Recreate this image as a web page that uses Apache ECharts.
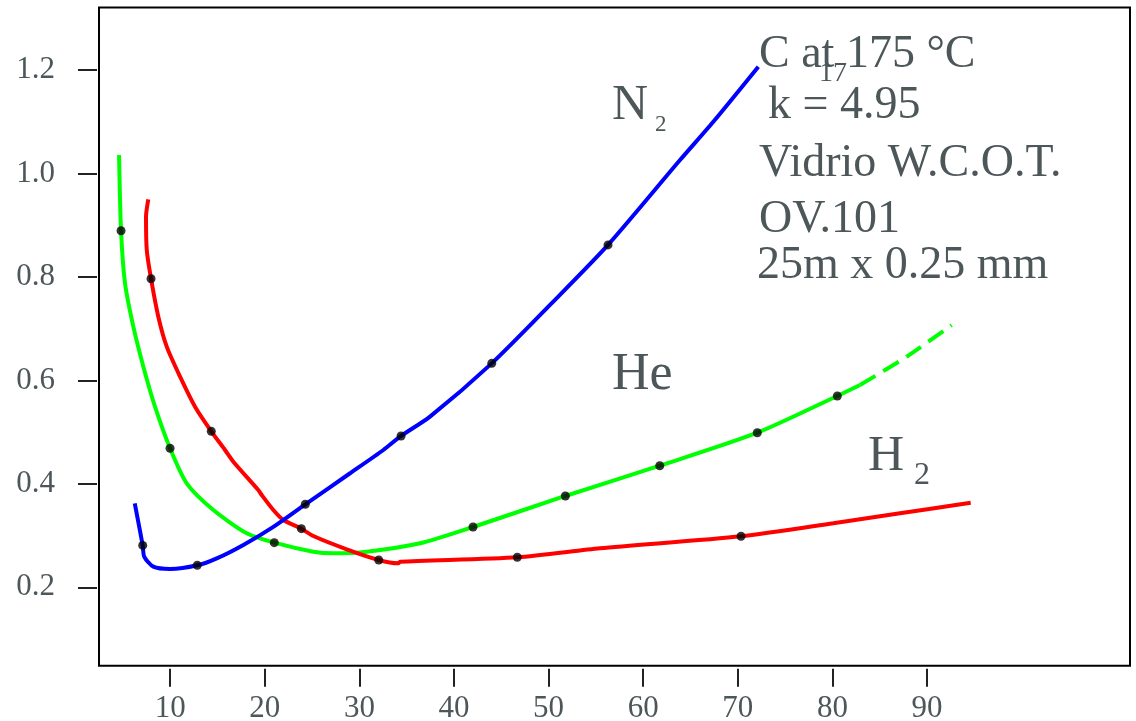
<!DOCTYPE html>
<html>
<head>
<meta charset="utf-8">
<script src="https://cdn.jsdelivr.net/npm/echarts@6/dist/echarts.min.js"></script>
<style>html,body{margin:0;padding:0;background:#fff;}#c{width:1136px;height:721px;}</style>
</head>
<body>
<div id="c"></div>
<script>
// ---- data (x = linear velocity, y = HETP) ----
const xTicks = [10, 20, 30, 40, 50, 60, 70, 80, 90];
const yTicks = [0.2, 0.4, 0.6, 0.8, 1.0, 1.2];

const n2Line = [[6.25,0.3625],[7.09,0.281],[7.26,0.259],[8.21,0.240],[9.98,0.2355],[12.86,0.2426],[14.92,0.256],[17.73,0.282],[20.90,0.317],[24.28,0.3605],[29.01,0.4205],[32.53,0.4655],[34.40,0.4926],[37.46,0.530],[43.99,0.633],[50.15,0.746],[56.28,0.862],[63.89,1.026],[67.41,1.100],[72.17,1.2065]];
const n2Points = [[7.09,0.281],[12.86,0.2426],[24.28,0.3605],[34.40,0.4926],[43.99,0.633],[56.28,0.862]];

const heLine = [[4.59,1.0358],[4.80,0.8894],[5.22,0.7877],[6.10,0.7039],[7.16,0.6265],[8.39,0.5492],[9.98,0.4688],[11.74,0.4011],[14.56,0.3495],[18.09,0.3045],[21.00,0.2863],[25.13,0.2689],[27.24,0.2658],[30.77,0.2689],[36.41,0.2851],[42.01,0.3166],[51.77,0.3766],[61.75,0.4351],[72.06,0.4989],[80.52,0.5699],[82.92,0.5911]];
const heDashed = [[82.92,0.5911],[87.9,0.6465],[92.61,0.7071]];
const hePoints = [[4.80,0.8894],[9.98,0.4688],[21.00,0.2863],[42.01,0.3166],[51.77,0.3766],[61.75,0.4351],[72.06,0.4989],[80.52,0.5699]];

const h2Line = [[7.68,0.9501],[7.44,0.9165],[7.52,0.8521],[7.97,0.7966],[8.74,0.7232],[9.63,0.6652],[11.04,0.6072],[12.62,0.5492],[14.34,0.5016],[15.79,0.4655],[16.67,0.4429],[19.31,0.3882],[19.67,0.3785],[20.90,0.3495],[21.96,0.3302],[23.86,0.3134],[25.13,0.2992],[28.66,0.2735],[32.04,0.2529],[34.11,0.2465],[34.29,0.2496],[46.69,0.2581],[55.43,0.2755],[70.34,0.2987],[80.10,0.3238],[87.15,0.3431],[94.62,0.3636]];
const h2Points = [[7.97,0.7966],[14.34,0.5016],[23.86,0.3134],[32.04,0.2529],[46.69,0.2581],[70.34,0.2987]];

// ---- styling ----
const TXT = '#4d575a';
const SERIF = 'Liberation Serif';

function lineSeries(data, color, dashed) {
  return {
    type: 'line', data: data, showSymbol: false, smooth: 0.25,
    lineStyle: { color: color, width: 4, type: dashed ? [18, 9] : 'solid', cap: 'butt' },
    silent: true, animation: false, z: 2
  };
}
function dotSeries(data) {
  return {
    type: 'scatter', data: data, symbol: 'circle', symbolSize: 9,
    itemStyle: { color: '#000' }, silent: true, animation: false, z: 5
  };
}
// text placed by baseline
function txt(str, x, baseline, fs) {
  return {
    type: 'text', x: x, y: baseline - 0.3375 * fs, z: 10,
    style: { text: str, fill: TXT, font: fs + 'px "' + SERIF + '"', verticalAlign: 'middle', align: 'left' }
  };
}

const chart = echarts.init(document.getElementById('c'), null, { renderer: 'canvas' });
chart.setOption({
  animation: false,
  backgroundColor: '#fff',
  grid: { left: 99, top: 7.5, right: 6, bottom: 55.3, containLabel: false, outerBoundsMode: 'none', show: true, borderColor: '#000', borderWidth: 2, backgroundColor: 'transparent' },
  xAxis: {
    type: 'value', min: 2.47, max: 111.46, offset: 3,
    axisLine: { show: false },
    axisTick: { show: true, length: 18, customValues: xTicks, lineStyle: { color: '#222', width: 2 } },
    axisLabel: { customValues: xTicks, margin: 25, fontFamily: SERIF, fontSize: 31, color: TXT },
    splitLine: { show: false }
  },
  yAxis: {
    type: 'value', min: 0.0485, max: 1.3209, offset: 2,
    axisLine: { show: false },
    axisTick: { show: true, length: 19, customValues: yTicks, lineStyle: { color: '#222', width: 2 } },
    axisLabel: { customValues: yTicks, margin: 42, fontFamily: SERIF, fontSize: 31, color: TXT, formatter: v => v.toFixed(1) },
    splitLine: { show: false }
  },
  series: [
    lineSeries(heLine, '#00ff00', false),
    lineSeries(heDashed, '#00ff00', true),
    lineSeries(h2Line, '#ff0000', false),
    lineSeries(n2Line, '#0000ff', false),
    dotSeries(n2Points),
    dotSeries(hePoints),
    dotSeries(h2Points)
  ],
  graphic: [
    txt('C at 175 °C', 759, 70, 46),
    txt('17', 819, 83, 28),
    txt('k = 4.95', 768, 121.7, 46),
    txt('Vidrio W.C.O.T.', 759, 179.3, 46),
    txt('OV.101', 759, 235, 46),
    txt('25m x 0.25 mm', 757, 281.7, 46),
    txt('N', 612, 123, 50),
    txt('2', 655, 133, 23),
    txt('He', 612, 393, 52),
    txt('H', 868, 473.3, 50),
    txt('2', 914, 486, 32)
  ]
});
</script>
</body>
</html>
